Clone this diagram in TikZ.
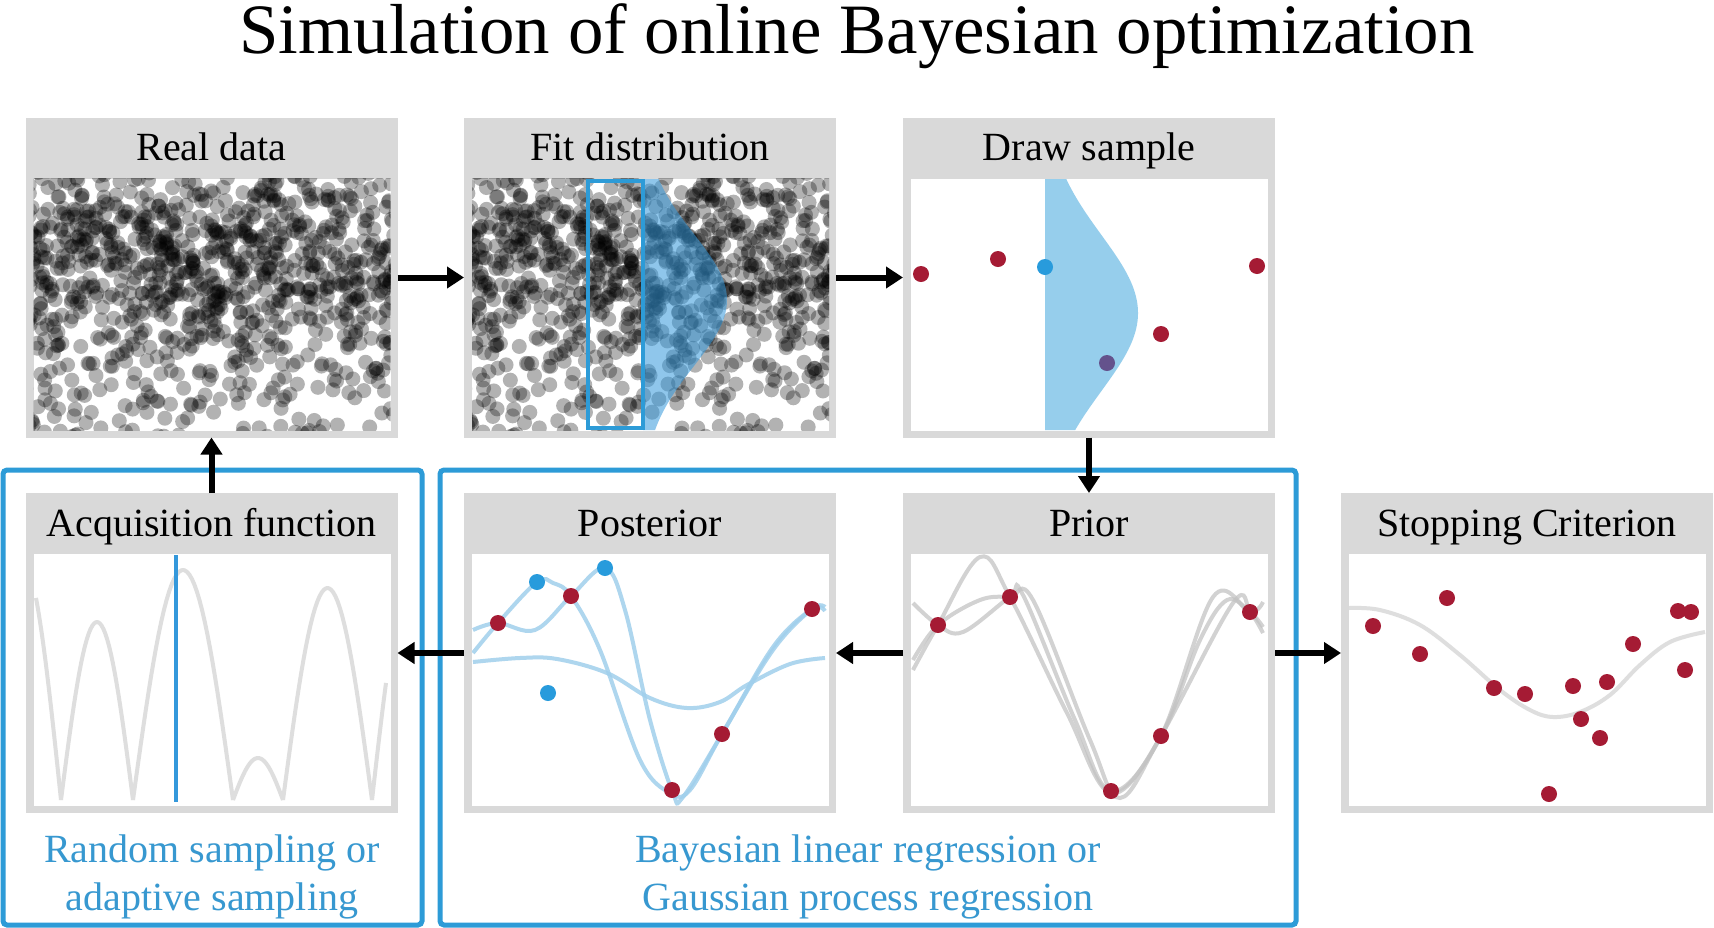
\documentclass[tikz,border=0pt]{standalone}
\usepackage{fontspec}
\setmainfont{Liberation Serif}
\usetikzlibrary{arrows.meta,calc}
\definecolor{panelgray}{RGB}{217,217,217}
\definecolor{frameblue}{RGB}{45,155,215}
\definecolor{textblue}{RGB}{55,152,208}
\definecolor{dotred}{RGB}{165,27,52}
\definecolor{dotblue}{RGB}{40,155,220}
\definecolor{dotpurple}{RGB}{100,82,140}
\definecolor{fillblue}{RGB}{150,206,236}
\definecolor{overblue}{RGB}{52,152,219}
\definecolor{curvegray}{RGB}{222,222,222}
\definecolor{priorgray}{RGB}{195,195,195}
\definecolor{postblue}{RGB}{160,207,236}
\newcommand{\mkpanel}[4]{%
  \node[panel] (#1) at (#2,#3) {};
  \fill[white] ($(#1.north west)+(8,61)$) rectangle ($(#1.south east)+(-7,-7)$);
}
\newcommand{\mkheader}[2]{%
  \node[hdr, anchor=base] (#1-t) at ($(#1.north)+(0,43)$) {#2};
}
\newcommand{\scatterdots}[1]{%
  \pgfmathsetseed{4321}%
  \foreach \i in {1,...,1000}{%
    \pgfmathsetmacro{\px}{#1+26+371*rnd}%
    \pgfmathsetmacro{\uu}{rnd}%
    \pgfmathsetmacro{\py}{\uu<0.5 ? 262+44*(rand+rand+rand) : 172+265*rnd}%
    \fill[graydot] (\px,\py) circle[radius=7.5];
  }%
}
\begin{document}
\begin{tikzpicture}[x=0.5pt, y=-0.5pt,
  panel/.style={rectangle, fill=panelgray, minimum width=186pt, minimum height=160pt, inner sep=0pt, outer sep=0pt},
  hdr/.style={font=\fontsize{20}{24}\selectfont, inner sep=0pt},
  bluelbl/.style={text=textblue, font=\fontsize{20}{24}\selectfont, align=center, inner sep=0pt},
  grp/.style={draw=frameblue, line width=2.5pt, rounded corners=2pt, inner sep=0pt, outer sep=0pt},
  arr/.style={line width=3pt, -{Triangle[length=8.5pt,width=10.5pt]}},
  graydot/.style={fill=black, fill opacity=0.3},
  reddot/.style={fill=dotred},
  bluedot/.style={fill=dotblue},
  acqcurve/.style={draw=curvegray, line width=2pt, line join=round},
  priorcurve/.style={draw=priorgray, line width=2pt, opacity=0.75},
  postcurve/.style={draw=postblue, line width=2pt, opacity=0.85},
]
\useasboundingbox (0,0) rectangle (1714,927);
\fill[white] (0,0) rectangle (1714,927);

% title
\node[font=\fontsize{35.4}{42}\selectfont, anchor=base, inner sep=0pt] (title) at (857,53) {Simulation of online Bayesian optimization};

% group frames
\node[grp, minimum width=209.5pt, minimum height=227.5pt] (leftgrp) at (212.5,697.5) {};
\node[grp, minimum width=428pt, minimum height=227.5pt] (midgrp) at (868,697.5) {};

% panels
\mkpanel{real}{211.5}{277.5}{Real data}
\mkpanel{fit}{650}{277.5}{Fit distribution}
\mkpanel{draw}{1089}{277.5}{Draw sample}
\mkpanel{acq}{211.5}{653}{Acquisition function}
\mkpanel{post}{650}{653}{Posterior}
\mkpanel{prior}{1089}{653}{Prior}
\mkpanel{stop}{1527}{653}{Stopping Criterion}

% Real data scatter
\begin{scope}
  \clip (33.5,178.5) rectangle (390.5,430.5);
  \scatterdots{0}
\end{scope}
% Fit distribution scatter
\begin{scope}
  \clip (472,178.5) rectangle (829,430.5);
  \scatterdots{438.5}
  \fill[overblue, opacity=0.55] (643,179) -- plot[domain=179:430, samples=70] ({643+84*exp(-0.5*((\x-300)/66)*((\x-300)/66))},{\x}) -- (643,430) -- cycle;
  \draw[frameblue, line width=2pt] (588,181) rectangle (643,428);
\end{scope}

% Draw sample
\begin{scope}
  \clip (911,178.5) rectangle (1268,430.5);
  \fill[fillblue] (1045,179) -- plot[domain=179:430, samples=70] ({1045+93*exp(-0.5*((\x-313)/78)*((\x-313)/78))},{\x}) -- (1045,430) -- cycle;
\end{scope}
\fill[reddot] (921,274) circle[radius=8];
\fill[reddot] (998,259) circle[radius=8];
\fill[reddot] (1257,266) circle[radius=8];
\fill[reddot] (1161,334) circle[radius=8];
\fill[bluedot] (1045,267) circle[radius=8];
\fill[fill=dotpurple] (1107,363) circle[radius=8];

% Acquisition function
\draw[acqcurve] plot[domain=0:56.25, samples=20] ({61-\x/180*80},{800-243*sin(\x)});
\draw[acqcurve] plot[domain=0:180, samples=40] ({61+\x/180*72},{800-178*sin(\x)});
\draw[acqcurve] plot[domain=0:180, samples=40] ({133+\x/180*100},{800-230*sin(\x)});
\draw[acqcurve] plot[domain=0:180, samples=30] ({233+\x/180*50},{800-42*sin(\x)});
\draw[acqcurve] plot[domain=0:180, samples=40] ({283+\x/180*89},{800-212*sin(\x)});
\draw[acqcurve] plot[domain=0:31.5, samples=15] ({372+\x/180*80},{800-224*sin(\x)});
\draw[draw=overblue, line width=2pt] (176,555) -- (176,802);

% Posterior
\begin{scope}
  \clip (472,553) rectangle (829,807);
  \draw[postcurve] plot[smooth, tension=0.6] coordinates {(473,662) (520,658) (557,659) (607,673) (650,698) (687,708) (720,702) (747,685) (790,664) (825,658)};
  \draw[postcurve] plot[smooth, tension=0.6] coordinates {(473,630) (498,623) (535,630) (571,596) (605,568) (625,610) (650,720) (673,793) (683,797) (722,734) (773,647) (812,609) (825,611)};
  \draw[postcurve] plot[smooth, tension=0.6] coordinates {(473,653) (498,623) (537,582) (553,583) (571,596) (600,650) (640,760) (670,793) (690,790) (722,734) (773,650) (812,609) (825,607)};
\end{scope}
\fill[reddot] (498,623) circle[radius=8];
\fill[reddot] (571,596) circle[radius=8];
\fill[reddot] (672,790) circle[radius=8];
\fill[reddot] (722,734) circle[radius=8];
\fill[reddot] (812,609) circle[radius=8];
\fill[bluedot] (537,582) circle[radius=8];
\fill[bluedot] (605,568) circle[radius=8];
\fill[bluedot] (548,693) circle[radius=8];

% Prior
\begin{scope}
  \clip (911,553) rectangle (1268,807);
  \draw[priorcurve] plot[smooth, tension=0.6] coordinates {(913,670) (938,625) (980,557) (1010,597) (1067,713) (1111,793) (1161,736) (1200,640) (1227,600) (1250,612) (1263,627)};
  \draw[priorcurve] plot[smooth, tension=0.6] coordinates {(913,603) (938,625) (963,632) (1010,597) (1023,595) (1075,720) (1111,791) (1161,736) (1213,597) (1250,612) (1263,602)};
  \draw[priorcurve] plot[smooth, tension=0.6] coordinates {(913,660) (938,625) (980,600) (1010,597) (1033,600) (1090,740) (1120,798) (1161,736) (1233,603) (1250,612) (1263,633)};
\end{scope}
\fill[reddot] (938,625) circle[radius=8];
\fill[reddot] (1010,597) circle[radius=8];
\fill[reddot] (1111,791) circle[radius=8];
\fill[reddot] (1161,736) circle[radius=8];
\fill[reddot] (1250,612) circle[radius=8];

% Stopping criterion
\draw[acqcurve] plot[smooth, tension=0.6] coordinates {(1349,608) (1380,610) (1420,625) (1460,655) (1500,690) (1530,710) (1553,717) (1580,712) (1610,695) (1640,665) (1670,642) (1705,632)};
\foreach \p in {(1373,626),(1447,598),(1420,654),(1494,688),(1525,694),(1573,686),(1607,682),(1581,719),(1600,738),(1549,794),(1633,644),(1678,611),(1691,612),(1685,670)}
  \fill[reddot] \p circle[radius=8];

% headers
\mkheader{real}{Real data}
\mkheader{fit}{Fit distribution}
\mkheader{draw}{Draw sample}
\mkheader{acq}{Acquisition function}
\mkheader{post}{Posterior}
\mkheader{prior}{Prior}
\mkheader{stop}{Stopping Criterion}

% group labels (base anchor = baseline of the last line)
\node[bluelbl, anchor=base] (leftlbl) at (212,910) {Random sampling or\\adaptive sampling};
\node[bluelbl, anchor=base] (midlbl) at (868,910) {Bayesian linear regression or\\Gaussian process regression};

% arrows
\draw[arr] (real) -- (fit);
\draw[arr] (fit) -- (draw);
\draw[arr] (draw) -- (prior);
\draw[arr] (prior) -- (post);
\draw[arr] (post) -- (acq);
\draw[arr] (acq) -- (real);
\draw[arr] (prior) -- (stop);
\end{tikzpicture}
\end{document}
